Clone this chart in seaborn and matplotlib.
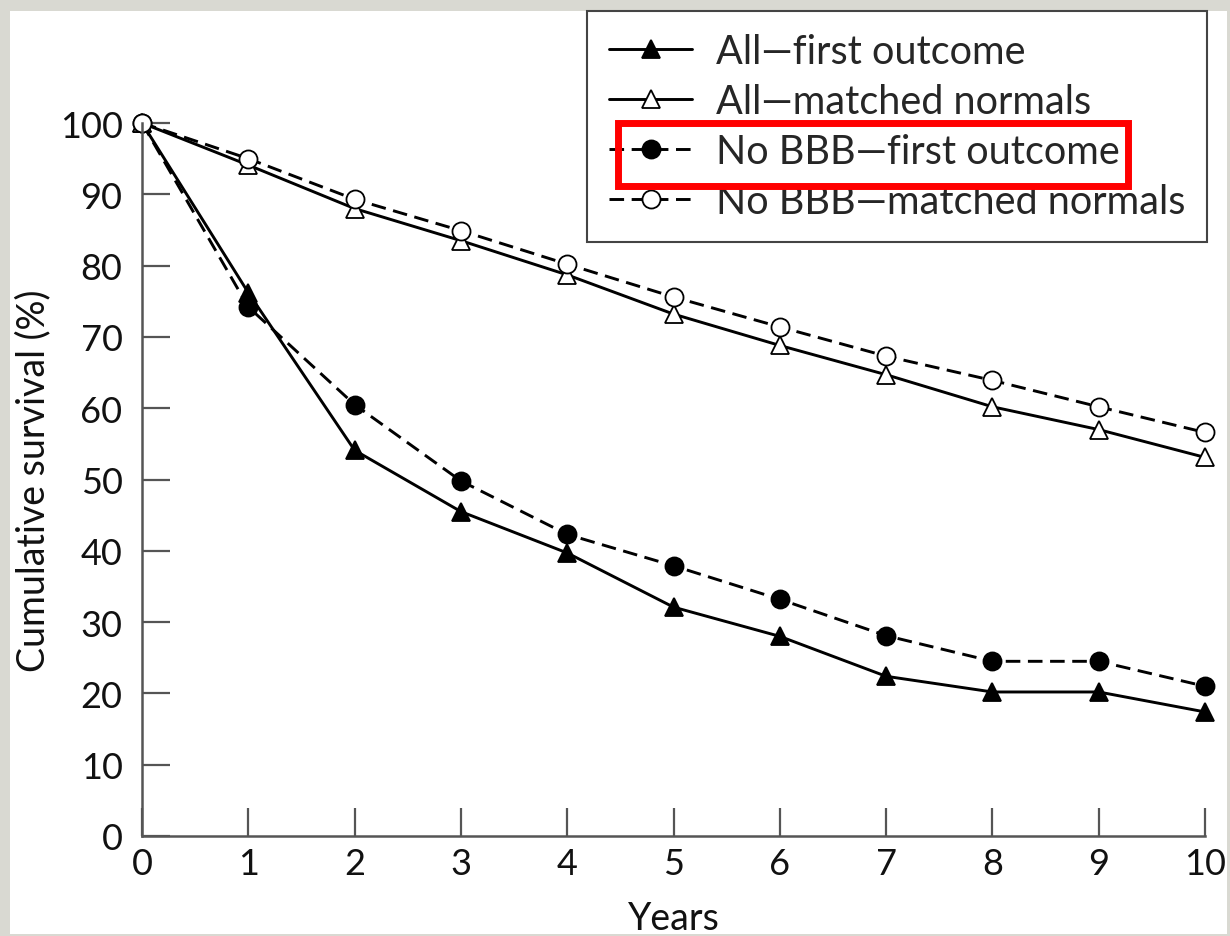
import numpy as np
import pandas as pd
import matplotlib
matplotlib.use("Agg")
import matplotlib.pyplot as plt
from matplotlib.patches import Rectangle
import seaborn as sns

# Survival over follow-up (%), one value per year
years = [0, 1, 2, 3, 4, 5, 6, 7, 8, 9, 10]
all_first = [100, 76.2, 54.1, 45.5, 39.7, 32.1, 28.0, 22.4, 20.2, 20.2, 17.4]
all_normals = [100, 94.1, 88.0, 83.5, 78.7, 73.2, 68.8, 64.7, 60.2, 57.0, 53.1]
nobbb_first = [100, 74.2, 60.5, 49.8, 42.3, 37.9, 33.2, 28.1, 24.5, 24.5, 21.0]
nobbb_normals = [100, 95.0, 89.3, 84.9, 80.2, 75.6, 71.4, 67.3, 63.9, 60.2, 56.6]

labels = ["All\u2014first outcome", "All\u2014matched normals",
          "No BBB\u2014first outcome", "No BBB\u2014matched normals"]
x_ticks = [0, 1, 2, 3, 4, 5, 6, 7, 8, 9, 10]
y_ticks = [0, 10, 20, 30, 40, 50, 60, 70, 80, 90, 100]

sns.set_style("ticks")
plt.rcParams["font.family"] = ["Lato", "DejaVu Sans"]

W, H = 1230, 937
fig = plt.figure(figsize=(W / 100, H / 100), dpi=100, facecolor="#d9d9d2")

# white panel inside the grey surround
fig.patches.append(Rectangle((10 / W, 1 - 935 / H), 1217 / W, 923 / H,
                             transform=fig.transFigure, facecolor="white",
                             edgecolor="none", zorder=-5))

ax = fig.add_axes([142 / W, 1 - 837 / H, (1205 - 142) / W, (837 - 124) / H])
ax.set_facecolor("none")

series = [
    (all_first, dict(marker="^", markerfacecolor="black", linestyle="-")),
    (all_normals, dict(marker="^", markerfacecolor="white", linestyle="-")),
    (nobbb_first, dict(marker="o", markerfacecolor="black", linestyle=(0, (5, 2.6)))),
    (nobbb_normals, dict(marker="o", markerfacecolor="white", linestyle=(0, (5, 2.6)))),
]

for (vals, style), lab in zip(series, labels):
    df = pd.DataFrame({"Years": years, "Survival": vals})
    sns.lineplot(data=df, x="Years", y="Survival", ax=ax, color="black",
                 linewidth=2.1, markersize=13, markeredgecolor="black",
                 markeredgewidth=1.3, clip_on=False, label=lab, **style)

ax.set_xlim(0, 10)
ax.set_ylim(0, 100)
ax.set_xticks(x_ticks)
ax.set_yticks(y_ticks)
ax.tick_params(axis="both", direction="in", length=20, width=1.6,
               color="#555555", labelsize=26, labelcolor="#111111")
ax.tick_params(axis="y", pad=14)
ax.tick_params(axis="x", pad=8)
for side in ["top", "right"]:
    ax.spines[side].set_visible(False)
for side in ["left", "bottom"]:
    ax.spines[side].set_color("#555555")
    ax.spines[side].set_linewidth(1.8)

ax.set_ylabel("Cumulative survival (%)", fontsize=27, color="#111111", labelpad=6)
ax.set_xlabel("Years", fontsize=27, color="#111111", labelpad=14)

leg = ax.legend(loc="upper right", bbox_to_anchor=(1207 / W, 1 - 12 / H),
                bbox_transform=fig.transFigure, borderaxespad=0,
                frameon=True, fancybox=False, framealpha=1, fontsize=28.5,
                handlelength=2.1, handletextpad=0.6, labelspacing=0.33,
                borderpad=0.55, edgecolor="#444444")
leg.get_frame().set_linewidth(1.5)

# highlight box around the third legend entry
fig.patches.append(Rectangle((618 / W, 1 - 187 / H), (1128 - 618) / W, (187 - 124) / H,
                             transform=fig.transFigure, facecolor="none",
                             edgecolor="#ff0000", linewidth=5, zorder=20))

fig.savefig("out.png", dpi=100, facecolor=fig.get_facecolor())
